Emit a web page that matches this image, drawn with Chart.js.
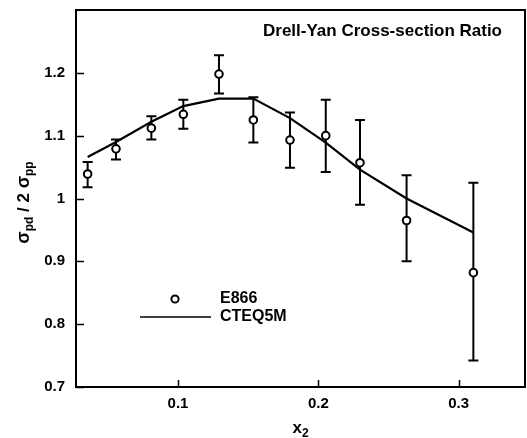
<!DOCTYPE html>
<html>
<head>
<meta charset="utf-8">
<script src="https://cdn.jsdelivr.net/npm/chart.js@4/dist/chart.umd.min.js"></script>
<style>
  html, body { margin: 0; padding: 0; background: #fff; overflow: hidden; }
  #wrap { width: 527px; height: 438px; }
  canvas { display: block; }
</style>
</head>
<body>
<div id="wrap"><canvas id="c" width="527" height="438"></canvas></div>
<script>
// E866 Drell-Yan cross-section ratio sigma_pd / 2 sigma_pp versus x2
const x2Values   = [0.0356, 0.0558, 0.0810, 0.1038, 0.1292, 0.1537, 0.1798, 0.2053, 0.2297, 0.2629, 0.3105];
const ratioE866  = [1.039, 1.079, 1.112, 1.134, 1.198, 1.125, 1.093, 1.100, 1.057, 0.965, 0.882];
const errUpper   = [1.058, 1.094, 1.131, 1.157, 1.228, 1.161, 1.137, 1.157, 1.125, 1.037, 1.025];
const errLower   = [1.018, 1.062, 1.094, 1.111, 1.167, 1.089, 1.049, 1.042, 0.990, 0.900, 0.742];
// CTEQ5M prediction evaluated at the same x2 values
const cteq5m     = [1.066, 1.090, 1.122, 1.147, 1.159, 1.159, 1.128, 1.089, 1.046, 1.000, 0.946];

const xTickValues = [0.1, 0.2, 0.3];
const yTickValues = [0.7, 0.8, 0.9, 1.0, 1.1, 1.2];
const xTickLabels = ['0.1', '0.2', '0.3'];
const yTickLabels = ['0.7', '0.8', '0.9', '1', '1.1', '1.2'];

const FONT = '"Liberation Sans", Arial, Helvetica, sans-serif';

const pointsE866 = x2Values.map((x, i) => ({ x, y: ratioE866[i] }));
const pointsCteq = x2Values.map((x, i) => ({ x, y: cteq5m[i] }));

// keep the plot frame exactly where the layout padding puts it
function noLabelPadding(s) {
  s.paddingTop = 0; s.paddingBottom = 0; s.paddingLeft = 0; s.paddingRight = 0;
}

// vertical error bars with caps, drawn beneath the markers
const errorBars = {
  id: 'errorBars',
  beforeDatasetsDraw(chart) {
    const { ctx, scales: { x, y } } = chart;
    ctx.save();
    ctx.strokeStyle = '#000';
    ctx.lineWidth = 2;
    x2Values.forEach((v, i) => {
      const px = x.getPixelForValue(v);
      const top = y.getPixelForValue(errUpper[i]);
      const bot = y.getPixelForValue(errLower[i]);
      ctx.beginPath();
      ctx.moveTo(px, top); ctx.lineTo(px, bot);
      ctx.moveTo(px - 5, top); ctx.lineTo(px + 5, top);
      ctx.moveTo(px - 5, bot); ctx.lineTo(px + 5, bot);
      ctx.stroke();
    });
    ctx.restore();
  }
};

// frame, inward tick marks, title, axis titles with subscripts, legend
const decorations = {
  id: 'decorations',
  afterDraw(chart) {
    const { ctx, chartArea: a, scales: { x, y } } = chart;
    ctx.save();
    ctx.strokeStyle = '#000';
    ctx.fillStyle = '#000';

    // top and right sides of the frame
    ctx.lineWidth = 2;
    ctx.beginPath();
    ctx.moveTo(a.left, a.top); ctx.lineTo(a.right, a.top); ctx.lineTo(a.right, a.bottom);
    ctx.stroke();

    // inward tick marks
    ctx.lineWidth = 1.5;
    ctx.beginPath();
    yTickValues.forEach(v => {
      const py = Math.round(y.getPixelForValue(v)) + 0.5;
      ctx.moveTo(a.left, py); ctx.lineTo(a.left + 8, py);
    });
    xTickValues.forEach(v => {
      const px = Math.round(x.getPixelForValue(v)) + 0.5;
      ctx.moveTo(px, a.bottom); ctx.lineTo(px, a.bottom - 7);
    });
    ctx.stroke();

    // title inside the frame
    ctx.font = 'bold 17px ' + FONT;
    ctx.textBaseline = 'middle';
    ctx.textAlign = 'left';
    ctx.fillText('Drell-Yan Cross-section Ratio', 263, 31);

    // x-axis title: x2
    const cx = (a.left + a.right) / 2;
    ctx.textBaseline = 'alphabetic';
    ctx.font = 'bold 17px ' + FONT;
    const wx = ctx.measureText('x').width;
    ctx.font = 'bold 12px ' + FONT;
    const w2 = ctx.measureText('2').width;
    const sx = cx - (wx + w2) / 2;
    ctx.font = 'bold 17px ' + FONT;
    ctx.fillText('x', sx, 433);
    ctx.font = 'bold 12px ' + FONT;
    ctx.fillText('2', sx + wx, 437);

    // y-axis title: sigma_pd / 2 sigma_pp (rotated)
    const parts = [
      { t: 'σ', f: 'bold 18px ', dy: 0 },
      { t: 'pd', f: 'bold 12px ', dy: 4 },
      { t: ' / 2 ', f: 'bold 17px ', dy: 0 },
      { t: 'σ', f: 'bold 18px ', dy: 0 },
      { t: 'pp', f: 'bold 12px ', dy: 4 }
    ];
    let total = 0;
    parts.forEach(p => { ctx.font = p.f + FONT; p.w = ctx.measureText(p.t).width; total += p.w; });
    ctx.translate(29, (a.top + a.bottom) / 2 + 4);
    ctx.rotate(-Math.PI / 2);
    let tx = -total / 2;
    parts.forEach(p => { ctx.font = p.f + FONT; ctx.fillText(p.t, tx, p.dy); tx += p.w; });
    ctx.setTransform(1, 0, 0, 1, 0, 0);

    // legend
    ctx.lineWidth = 2;
    ctx.fillStyle = '#fff';
    ctx.beginPath();
    ctx.arc(175, 299, 3.6, 0, Math.PI * 2);
    ctx.fill(); ctx.stroke();
    ctx.lineWidth = 1.5;
    ctx.beginPath();
    ctx.moveTo(140, 317); ctx.lineTo(211, 317);
    ctx.stroke();
    ctx.fillStyle = '#000';
    ctx.font = 'bold 16px ' + FONT;
    ctx.textBaseline = 'middle';
    ctx.fillText('E866', 220, 299);
    ctx.fillText('CTEQ5M', 220, 317);

    ctx.restore();
  }
};

new Chart(document.getElementById('c'), {
  type: 'scatter',
  data: {
    datasets: [
      {
        label: 'E866',
        data: pointsE866,
        showLine: false,
        pointStyle: 'circle',
        pointRadius: 3.8,
        pointHoverRadius: 3.8,
        pointBorderWidth: 2,
        pointBorderColor: '#000',
        pointBackgroundColor: '#fff',
        order: 0
      },
      {
        label: 'CTEQ5M',
        data: pointsCteq,
        showLine: true,
        borderColor: '#000',
        borderWidth: 2.2,
        pointRadius: 0,
        tension: 0,
        fill: false,
        order: 1
      }
    ]
  },
  options: {
    responsive: false,
    animation: false,
    devicePixelRatio: 1,
    layout: { autoPadding: false, padding: { top: 10, right: 2, left: 0, bottom: 0 } },
    plugins: {
      legend: { display: false },
      tooltip: { enabled: false },
      title: { display: false }
    },
    scales: {
      x: {
        type: 'linear',
        min: 0.0273,
        max: 0.3473,
        grid: { display: false, drawTicks: false },
        border: { display: true, color: '#000', width: 2 },
        afterBuildTicks: s => { s.ticks = xTickValues.map(v => ({ value: v })); },
        afterFit: s => { s.height = 51; noLabelPadding(s); },
        ticks: {
          color: '#000',
          padding: 8,
          maxRotation: 0,
          autoSkip: false,
          font: { family: FONT, size: 15, weight: 'bold' },
          callback: v => xTickLabels[xTickValues.indexOf(v)] ?? ''
        }
      },
      y: {
        type: 'linear',
        min: 0.7,
        max: 1.3,
        grid: { display: false, drawTicks: false },
        border: { display: true, color: '#000', width: 2 },
        afterBuildTicks: s => { s.ticks = yTickValues.map(v => ({ value: v })); },
        afterFit: s => { s.width = 76; noLabelPadding(s); },
        ticks: {
          color: '#000',
          padding: 11,
          autoSkip: false,
          font: { family: FONT, size: 15, weight: 'bold' },
          callback: v => {
            const i = yTickValues.findIndex(t => Math.abs(t - v) < 1e-9);
            return i >= 0 ? yTickLabels[i] : '';
          }
        }
      }
    }
  },
  plugins: [errorBars, decorations]
});
</script>
</body>
</html>
